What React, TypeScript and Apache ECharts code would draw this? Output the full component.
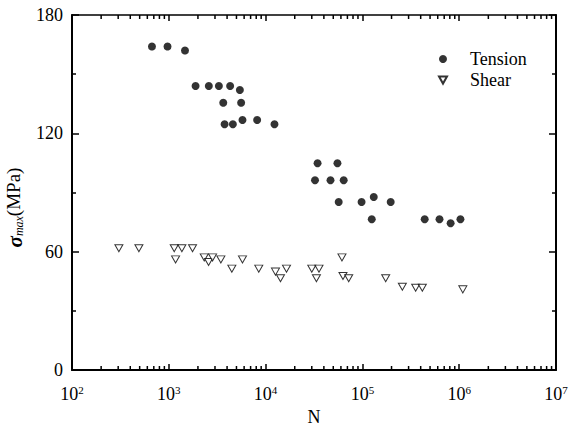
import React, { useEffect, useRef } from "react";
import * as echarts from "echarts";

// Cycles to failure (N) and maximum stress (MPa)
const tensionN = [670, 970, 1470, 1890, 2590, 3290, 4300, 5420, 3650, 5590, 3770, 4590, 5770, 8180, 12350, 34400, 55200, 32400, 46800, 64100, 56900, 98000, 131000, 196000, 125000, 440000, 626000, 815000, 1030000];
const tensionStress = [164, 164, 162, 144, 144, 144, 144, 142, 135.5, 135.5, 124.6, 124.6, 126.8, 126.8, 124.6, 104.8, 104.8, 96.2, 96.2, 96.2, 85.2, 85.2, 87.7, 85.2, 76.4, 76.4, 76.4, 74.4, 76.4];

const shearN = [305, 491, 1138, 1365, 1759, 1175, 2323, 2576, 2832, 3450, 4480, 5770, 8500, 12650, 14250, 16440, 30000, 35600, 33500, 61500, 63000, 72200, 174000, 258600, 355000, 416000, 1090000];
const shearStress = [61.7, 61.7, 61.7, 61.7, 61.7, 56.1, 57.1, 54.8, 57.1, 56.1, 51.4, 56.1, 51.4, 49.9, 46.5, 51.4, 51.4, 51.4, 46.5, 57.1, 47.7, 46.5, 46.5, 42.2, 41.7, 41.7, 40.9];

const xMin = 100;
const xMax = 10000000;
const yMin = 0;
const yMax = 180;
const yInterval = 60;

// minor tick positions on the log axis (2..9 in every decade)
const minorTickN = [
  200, 300, 400, 500, 600, 700, 800, 900,
  2000, 3000, 4000, 5000, 6000, 7000, 8000, 9000,
  20000, 30000, 40000, 50000, 60000, 70000, 80000, 90000,
  200000, 300000, 400000, 500000, 600000, 700000, 800000, 900000,
  2000000, 3000000, 4000000, 5000000, 6000000, 7000000, 8000000, 9000000,
];

const FONT = "Liberation Serif";

export default function App() {
  const ref = useRef<HTMLDivElement>(null);

  useEffect(() => {
    document.body.style.margin = "0";
    const chart = echarts.init(ref.current!, null, { renderer: "svg" });

    const supFormatter = (v: number) => {
      const e = Math.round(Math.log10(v));
      return `{b|10}{s|${e}}`;
    };
    const supRich = {
      b: { fontSize: 18, fontFamily: FONT, color: "#000", lineHeight: 20 },
      s: { fontSize: 11, fontFamily: FONT, color: "#000", lineHeight: 12, verticalAlign: "top" },
    };

    const axisLineStyle = (w: number) => ({ show: true, onZero: false, lineStyle: { color: "#000", width: w } });

    chart.setOption({
      animation: false,
      backgroundColor: "#fff",
      textStyle: { fontFamily: FONT, color: "#000" },
      grid: { left: 72, top: 15, width: 484, height: 355, containLabel: false, outerBoundsMode: "none" },
      legend: {
        orient: "vertical",
        left: 438,
        top: 50,
        padding: 0,
        itemGap: 3,
        itemWidth: 8,
        itemHeight: 8,
        data: ["Tension", "Shear"],
        textStyle: { fontSize: 18, fontFamily: FONT, color: "#000", padding: [0, 0, 0, 18] },
      },
      xAxis: [
        {
          type: "log",
          logBase: 10,
          min: xMin,
          max: xMax,
          position: "bottom",
          name: "N",
          nameLocation: "middle",
          nameGap: 37,
          nameTextStyle: { fontSize: 18, lineHeight: 16, fontFamily: FONT, color: "#000" },
          axisLine: axisLineStyle(2),
          axisTick: { show: true, inside: true, length: 6, lineStyle: { color: "#000", width: 1.5 } },
          axisLabel: { formatter: supFormatter, rich: supRich, margin: 14 },
          splitLine: { show: false },
        },
        {
          type: "log",
          logBase: 10,
          min: xMin,
          max: xMax,
          position: "top",
          axisLine: axisLineStyle(1.5),
          axisTick: { show: true, inside: true, length: 6, lineStyle: { color: "#000", width: 1.5 } },
          axisLabel: { show: false },
          splitLine: { show: false },
        },
      ],
      yAxis: [
        {
          type: "value",
          min: yMin,
          max: yMax,
          interval: yInterval,
          position: "left",
          name: "{a|σ}{b|max}{c|(MPa)}",
          nameLocation: "middle",
          nameGap: 37,
          nameTextStyle: {
            padding: [0, 30, 0, 0],
            rich: {
              a: { fontSize: 21, fontStyle: "italic", fontWeight: "bold", fontFamily: FONT, color: "#000", lineHeight: 21, verticalAlign: "top" },
              b: { fontSize: 12, fontStyle: "italic", fontFamily: FONT, color: "#000", lineHeight: 10, verticalAlign: "bottom" },
              c: { fontSize: 19, fontFamily: FONT, color: "#000", lineHeight: 21, verticalAlign: "top" },
            },
          },
          axisLine: axisLineStyle(2),
          axisTick: { show: true, inside: true, length: 7, lineStyle: { color: "#000", width: 1.5 } },
          minorTick: { show: true, splitNumber: 2, length: 4, lineStyle: { color: "#000", width: 1.5 } },
          axisLabel: { fontSize: 18, fontFamily: FONT, color: "#000", margin: 9 },
          splitLine: { show: false },
          minorSplitLine: { show: false },
        },
        {
          type: "value",
          min: yMin,
          max: yMax,
          interval: yInterval,
          position: "right",
          axisLine: axisLineStyle(2),
          axisTick: { show: true, inside: true, length: 7, lineStyle: { color: "#000", width: 1.5 } },
          minorTick: { show: true, splitNumber: 2, length: 4, lineStyle: { color: "#000", width: 1.5 } },
          axisLabel: { show: false },
          splitLine: { show: false },
          minorSplitLine: { show: false },
        },
      ],
      series: [
        {
          type: "custom",
          name: "minorTicks",
          xAxisIndex: 0,
          yAxisIndex: 0,
          silent: true,
          clip: false,
          data: minorTickN.map((v) => [v]),
          encode: { x: 0 },
          renderItem: (params: any, api: any) => {
            const v = api.value(0);
            const b = api.coord([v, yMin]);
            const t = api.coord([v, yMax]);
            const style = { stroke: "#000", lineWidth: 1.5 };
            return {
              type: "group",
              children: [
                { type: "line", shape: { x1: b[0], y1: b[1], x2: b[0], y2: b[1] - 4 }, style },
                { type: "line", shape: { x1: t[0], y1: t[1], x2: t[0], y2: t[1] + 4 }, style },
              ],
            };
          },
        },
        {
          type: "scatter",
          name: "Tension",
          xAxisIndex: 0,
          yAxisIndex: 0,
          symbol: "circle",
          symbolSize: 8,
          itemStyle: { color: "#000" },
          data: tensionN.map((n, i) => [n, tensionStress[i]]),
        },
        {
          type: "scatter",
          name: "Shear",
          xAxisIndex: 0,
          yAxisIndex: 0,
          symbol: "path://M0,0 L10,0 L5,9 Z",
          symbolSize: [8, 7],
          itemStyle: { color: "#fff", borderColor: "#000", borderWidth: 1 },
          data: shearN.map((n, i) => [n, shearStress[i]]),
        },
      ],
    });

    return () => chart.dispose();
  }, []);

  return <div ref={ref} style={{ width: 573, height: 427 }} />;
}
